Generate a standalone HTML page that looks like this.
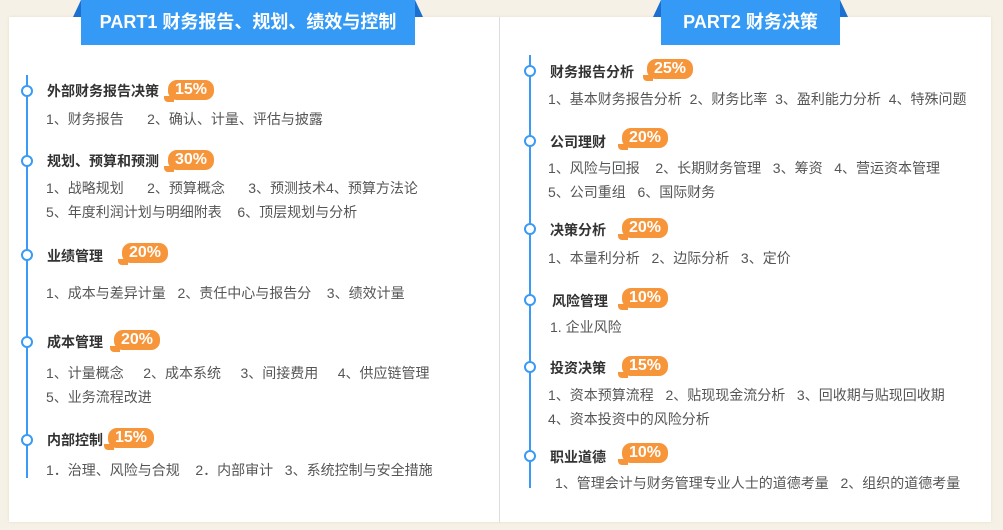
<!DOCTYPE html>
<html><head><meta charset="utf-8"><style>
*{margin:0;padding:0;box-sizing:border-box}
body{width:1003px;height:530px;background:#f6f1e6;position:relative;overflow:hidden;font-family:"Liberation Sans","Noto Sans CJK SC",sans-serif}
.panel{position:absolute;left:9px;top:17px;width:982px;height:505px;background:#fff;box-shadow:0 0 3px #e8e0cc}
.div{position:absolute;left:499px;top:17px;width:1px;height:505px;background:#ddd}
.ban{position:absolute;top:0;height:45px;background:#359af5;color:#fff;font-weight:bold;font-size:18px;line-height:45px;text-align:center}
.flap{position:absolute;top:0;width:0;height:0;border-bottom:17px solid #1a6fd0}
.fl{border-left:8px solid transparent}
.fr{border-right:8px solid transparent}
.vl{position:absolute;width:2px;background:#3a9af5}
.c{position:absolute;width:12px;height:12px;border:2.5px solid #3a9af5;border-radius:50%;background:#fff}
.t{position:absolute;font-size:14px;font-weight:bold;color:#333;white-space:nowrap;line-height:16px}
.l{position:absolute;font-size:14px;color:#555;white-space:nowrap;line-height:16px}
.b{position:absolute;width:46px;height:20px;background:#f7953a;border-radius:9px;color:#fff;font-size:16px;font-weight:bold;text-align:center;line-height:20px}
.b:after{content:"";position:absolute;left:-4px;bottom:-2px;width:10px;height:6px;background:#f7953a;border-radius:0 0 0 4px}
</style></head><body>
<div class="panel"></div>
<div class="div"></div>
<div class="flap fl" style="left:73px"></div><div class="flap fr" style="left:415px"></div>
<div class="ban" style="left:81px;width:334px">PART1 财务报告、规划、绩效与控制</div>
<div class="flap fl" style="left:653px"></div><div class="flap fr" style="left:840px"></div>
<div class="ban" style="left:661px;width:179px">PART2 财务决策</div>

<div class="vl" style="left:26px;top:75px;height:403px"></div>
<div class="c" style="left:21px;top:85px"></div>
<div class="t" style="left:47px;top:83px">外部财务报告决策</div><div class="b" style="left:168px;top:80px">15%</div>
<div class="l" style="left:46px;top:111px">1、财务报告&nbsp;&nbsp;&nbsp;&nbsp;&nbsp;&nbsp;2、确认、计量、评估与披露</div>
<div class="c" style="left:21px;top:155px"></div>
<div class="t" style="left:47px;top:153px">规划、预算和预测</div><div class="b" style="left:168px;top:150px">30%</div>
<div class="l" style="left:46px;top:180px">1、战略规划&nbsp;&nbsp;&nbsp;&nbsp;&nbsp;&nbsp;2、预算概念&nbsp;&nbsp;&nbsp;&nbsp;&nbsp;&nbsp;3、预测技术4、预算方法论</div>
<div class="l" style="left:46px;top:204px">5、年度利润计划与明细附表&nbsp;&nbsp;&nbsp;&nbsp;6、顶层规划与分析</div>
<div class="c" style="left:21px;top:249px"></div>
<div class="t" style="left:47px;top:248px">业绩管理</div><div class="b" style="left:122px;top:243px">20%</div>
<div class="l" style="left:46px;top:285px">1、成本与差异计量&nbsp;&nbsp;&nbsp;2、责任中心与报告分&nbsp;&nbsp;&nbsp;&nbsp;3、绩效计量</div>
<div class="c" style="left:21px;top:336px"></div>
<div class="t" style="left:47px;top:334px">成本管理</div><div class="b" style="left:114px;top:330px">20%</div>
<div class="l" style="left:46px;top:365px">1、计量概念&nbsp;&nbsp;&nbsp;&nbsp;&nbsp;2、成本系统&nbsp;&nbsp;&nbsp;&nbsp;&nbsp;3、间接费用&nbsp;&nbsp;&nbsp;&nbsp;&nbsp;4、供应链管理</div>
<div class="l" style="left:46px;top:389px">5、业务流程改进</div>
<div class="c" style="left:21px;top:434px"></div>
<div class="t" style="left:47px;top:432px">内部控制</div><div class="b" style="left:108px;top:428px">15%</div>
<div class="l" style="left:46px;top:462px">1．治理、风险与合规&nbsp;&nbsp;&nbsp;&nbsp;2．内部审计&nbsp;&nbsp;&nbsp;3、系统控制与安全措施</div>

<div class="vl" style="left:529px;top:55px;height:433px"></div>
<div class="c" style="left:524px;top:65px"></div>
<div class="t" style="left:550px;top:64px">财务报告分析</div><div class="b" style="left:647px;top:59px">25%</div>
<div class="l" style="left:548px;top:91px">1、基本财务报告分析&nbsp;&nbsp;2、财务比率&nbsp;&nbsp;3、盈利能力分析&nbsp;&nbsp;4、特殊问题</div>
<div class="c" style="left:524px;top:135px"></div>
<div class="t" style="left:550px;top:134px">公司理财</div><div class="b" style="left:622px;top:128px">20%</div>
<div class="l" style="left:548px;top:160px">1、风险与回报&nbsp;&nbsp;&nbsp;&nbsp;2、长期财务管理&nbsp;&nbsp;&nbsp;3、筹资&nbsp;&nbsp;&nbsp;4、营运资本管理</div>
<div class="l" style="left:548px;top:184px">5、公司重组&nbsp;&nbsp;&nbsp;6、国际财务</div>
<div class="c" style="left:524px;top:223px"></div>
<div class="t" style="left:550px;top:222px">决策分析</div><div class="b" style="left:622px;top:218px">20%</div>
<div class="l" style="left:548px;top:250px">1、本量利分析&nbsp;&nbsp;&nbsp;2、边际分析&nbsp;&nbsp;&nbsp;3、定价</div>
<div class="c" style="left:524px;top:294px"></div>
<div class="t" style="left:552px;top:293px">风险管理</div><div class="b" style="left:622px;top:288px">10%</div>
<div class="l" style="left:550px;top:319px">1. 企业风险</div>
<div class="c" style="left:524px;top:361px"></div>
<div class="t" style="left:550px;top:360px">投资决策</div><div class="b" style="left:622px;top:356px">15%</div>
<div class="l" style="left:548px;top:387px">1、资本预算流程&nbsp;&nbsp;&nbsp;2、贴现现金流分析&nbsp;&nbsp;&nbsp;3、回收期与贴现回收期</div>
<div class="l" style="left:548px;top:411px">4、资本投资中的风险分析</div>
<div class="c" style="left:524px;top:450px"></div>
<div class="t" style="left:550px;top:449px">职业道德</div><div class="b" style="left:622px;top:443px">10%</div>
<div class="l" style="left:555px;top:475px">1、管理会计与财务管理专业人士的道德考量&nbsp;&nbsp;&nbsp;2、组织的道德考量</div>
</body></html>
